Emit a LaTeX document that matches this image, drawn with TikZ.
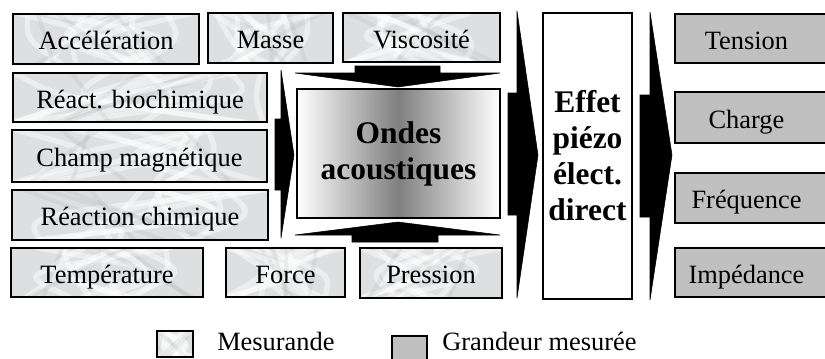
\documentclass[tikz,border=0pt]{standalone}
\usepackage{fontspec}
\setmainfont{Liberation Serif}
\usetikzlibrary{calc}
\definecolor{marb}{HTML}{DDDFE1}
\definecolor{gval}{HTML}{C0C0C0}
\newcommand\normsz{\fontsize{19.8pt}{22pt}\selectfont}
\newcommand\bigbf{\fontsize{23.6pt}{27pt}\selectfont\bfseries}
\newcommand\pbox[7]{%
  \node[#1, minimum width={(#5-#3)*0.75pt}, minimum height={(#6-#4)*0.75pt}] (#2) at ({(#3+#5)/2},{(#4+#6)/2}) {#7};}
\tikzset{
  basebox/.style={draw, line width=1.1pt, inner sep=0pt, outer sep=0pt, font=\normsz, text height=15.8pt, text depth=0pt},
  bigbox/.style={draw, line width=1.1pt, inner sep=0pt, outer sep=0pt, font=\bigbf, align=center},
  mes/.style={basebox, fill=marb, path picture={
    \foreach \k in {1,...,10}{
      \pgfmathsetmacro\mA{rnd}\pgfmathsetmacro\mB{rnd}\pgfmathsetmacro\mC{rnd}
      \draw[white, line width=4pt, opacity=0.45, line cap=round]
        ($(path picture bounding box.south west)!\mA!(path picture bounding box.south east)$)
        .. controls ($(path picture bounding box.west)!\mC!(path picture bounding box.east)$) ..
        ($(path picture bounding box.north west)!\mB!(path picture bounding box.north east)$);
    }
    \foreach \k in {1,...,4}{
      \pgfmathsetmacro\mA{rnd}\pgfmathsetmacro\mB{rnd}
      \draw[gray, line width=3pt, opacity=0.1, line cap=round]
        ($(path picture bounding box.south west)!\mA!(path picture bounding box.south east)$) --
        ($(path picture bounding box.north west)!\mB!(path picture bounding box.north east)$);
    }
  }},
  grd/.style={basebox, fill=gval},
  blockarrow/.style={fill=black, draw=black, line width=0.4pt},
}
\begin{document}
\begin{tikzpicture}[x=0.75pt, y=-0.75pt]
\pgfmathsetseed{11}
\useasboundingbox (0,0) rectangle (825,358);
\clip (0,0) rectangle (825,358);
% mesurande boxes
\pbox{mes}{acc}{13}{14}{199}{64}{Accélération}
\pbox{mes}{mas}{208}{13}{333}{63}{Masse}
\pbox{mes}{vis}{343}{13}{500}{62}{Viscosité}
\pbox{mes}{bio}{13}{73}{267}{122}{Réact. biochimique}
\pbox{mes}{cha}{12}{130}{267}{182}{Champ magnétique}
\pbox{mes}{rea}{12}{190}{268}{240}{Réaction chimique}
\pbox{mes}{tem}{11}{248}{203}{297}{Température}
\pbox{mes}{for}{226}{248}{345}{297}{Force}
\pbox{mes}{pre}{360}{248}{502}{298}{Pression}
% central box
\pbox{bigbox, left color=white, right color=white, middle color=black!50}{ond}{297}{89}{500}{218}{Ondes\\acoustiques}
% piezo box
\pbox{bigbox, fill=white}{eff}{543}{13}{632}{299}{Effet\\piézo\\élect.\\direct}
% measured quantities
\pbox{grd}{ten}{675}{14}{840}{63}{\hspace*{-16.5pt}Tension}
\pbox{grd}{chg}{675}{92}{840}{143}{\hspace*{-16.5pt}Charge}
\pbox{grd}{fre}{675}{173}{840}{223}{\hspace*{-16.5pt}Fréquence}
\pbox{grd}{imp}{675}{248}{840}{297}{\hspace*{-16.5pt}Impédance}
% block arrows
\draw[blockarrow] (355,66) -- (440,66) -- (440,73) -- (500,73) -- (398,87) -- (295,73) -- (355,73) -- cycle;
\draw[blockarrow] (352,242) -- (438,242) -- (438,235) -- (500,235) -- (398,222) -- (295,235) -- (352,235) -- cycle;
\draw[blockarrow] (275,119) -- (281,119) -- (281,70) -- (294,155) -- (281,238) -- (281,190) -- (275,190) -- cycle;
\draw[blockarrow] (508,93) -- (517,93) -- (517,11) -- (538,155) -- (517,298) -- (517,215) -- (508,215) -- cycle;
\draw[blockarrow] (640,95) -- (650,95) -- (650,12) -- (672,155) -- (650,300) -- (650,217) -- (640,217) -- cycle;
% legend
\pbox{mes}{lgm}{157}{331}{193}{357}{}
\pbox{grd}{lgg}{392}{336}{427}{364}{}
\node[font=\normsz, anchor=base west, inner sep=0pt] (lgmt) at (217,350) {Mesurande};
\node[font=\normsz, anchor=base west, inner sep=0pt] (lggt) at (442,350) {Grandeur mesurée};
\end{tikzpicture}
\end{document}
